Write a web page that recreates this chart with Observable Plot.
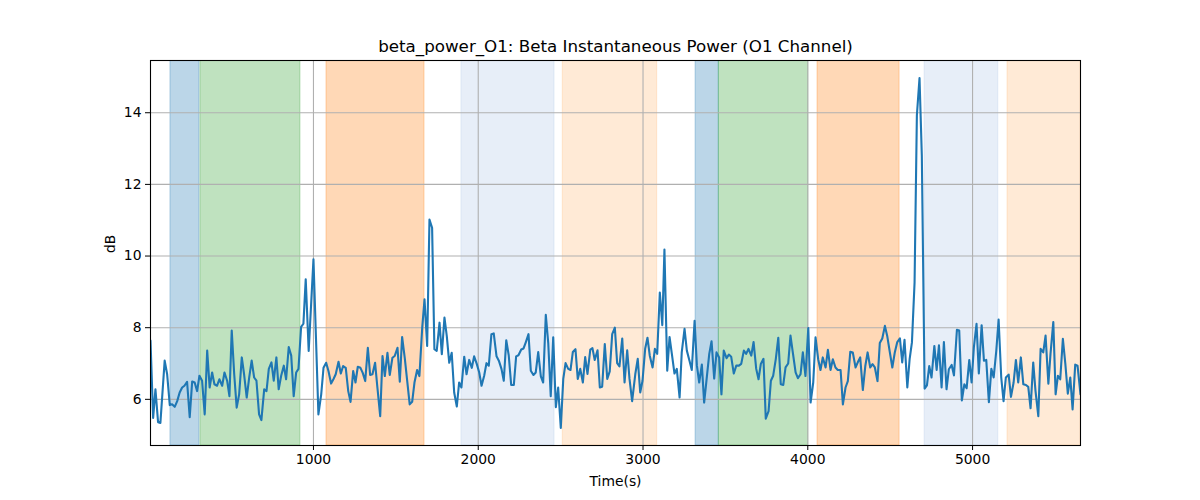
<!DOCTYPE html>
<html>
<head>
<meta charset="utf-8">
<script src="https://cdn.jsdelivr.net/npm/d3@7"></script>
<script src="https://cdn.jsdelivr.net/npm/@observablehq/plot@0.6"></script>
<style>
  html, body { margin: 0; padding: 0; background: white; }
  #chart svg { display: block; }
</style>
</head>
<body>
<div id="chart"></div>
<script>
const titleText = "beta_power_O1: Beta Instantaneous Power (O1 Channel)";
const xLabel = "Time(s)";
const yLabel = "dB";
const xTicks = [1000, 2000, 3000, 4000, 5000];
const yTicks = [6, 8, 10, 12, 14];

const times = [
  11, 27, 41, 57, 71, 97, 112, 128, 142, 158, 173, 188, 203, 217, 233, 249, 264, 279, 294, 308,
  324, 340, 355, 370, 385, 399, 415, 429, 446, 460, 476, 490, 504, 519, 534, 549, 565, 579, 595, 610,
  625, 640, 654, 670, 684, 701, 715, 729, 745, 759, 775, 789, 804, 820, 834, 850, 865, 880, 895, 909,
  925, 939, 953, 971, 1000, 1030, 1047, 1061, 1077, 1091, 1107, 1121, 1135, 1152, 1166, 1180, 1196, 1211, 1225, 1241,
  1255, 1269, 1285, 1299, 1314, 1330, 1344, 1358, 1374, 1388, 1405, 1419, 1433, 1449, 1463, 1479, 1493, 1510, 1524, 1538,
  1554, 1569, 1584, 1599, 1613, 1629, 1643, 1660, 1674, 1690, 1704, 1720, 1734, 1748, 1765, 1779, 1795, 1809, 1824, 1839,
  1854, 1870, 1884, 1898, 1915, 1929, 1945, 1961, 1975, 1991, 2006, 2020, 2036, 2050, 2064, 2080, 2094, 2111, 2125, 2141,
  2155, 2170, 2185, 2200, 2216, 2230, 2244, 2261, 2275, 2289, 2305, 2319, 2335, 2349, 2364, 2380, 2394, 2410, 2425, 2440,
  2455, 2471, 2485, 2501, 2516, 2530, 2546, 2560, 2574, 2590, 2604, 2619, 2635, 2649, 2663, 2680, 2693, 2707, 2724, 2738,
  2752, 2768, 2783, 2798, 2813, 2829, 2843, 2857, 2874, 2888, 2904, 2918, 2934, 2953, 2968, 2983, 2997, 3013, 3027, 3041,
  3058, 3072, 3086, 3102, 3117, 3130, 3147, 3161, 3175, 3191, 3205, 3222, 3235, 3252, 3266, 3282, 3296, 3313, 3327, 3341,
  3357, 3371, 3385, 3402, 3416, 3432, 3446, 3462, 3476, 3490, 3507, 3521, 3535, 3551, 3566, 3582, 3596, 3612, 3626, 3640,
  3657, 3671, 3687, 3701, 3715, 3731, 3745, 3762, 3776, 3790, 3806, 3821, 3836, 3851, 3865, 3881, 3895, 3909, 3926, 3940,
  3956, 3970, 3986, 4003, 4017, 4033, 4047, 4063, 4077, 4091, 4108, 4122, 4138, 4152, 4168, 4182, 4199, 4213, 4229, 4243,
  4258, 4273, 4290, 4304, 4318, 4334, 4349, 4363, 4379, 4393, 4407, 4423, 4437, 4452, 4468, 4482, 4498, 4513, 4528, 4543,
  4559, 4573, 4587, 4604, 4618, 4632, 4648, 4662, 4678, 4692, 4709, 4723, 4737, 4751, 4768, 4782, 4796, 4812, 4826, 4842,
  4856, 4873, 4887, 4905, 4919, 4935, 4950, 4964, 4980, 4994, 5008, 5024, 5038, 5055, 5069, 5083, 5099, 5114, 5128, 5144,
  5158, 5174, 5188, 5202, 5219, 5233, 5249, 5263, 5277, 5293, 5308, 5324, 5338, 5352, 5368, 5382, 5399, 5413, 5429, 5443,
  5460, 5473, 5490, 5504, 5518, 5532, 5548, 5563, 5578, 5593, 5607, 5623, 5637, 5655
];

const values = [
  7.64, 5.48, 6.28, 5.36, 5.34, 7.08, 6.70, 5.84, 5.86, 5.79, 5.95, 6.19, 6.33, 6.38, 6.49, 5.50, 6.50, 6.47, 6.23, 6.66,
  6.52, 5.58, 7.36, 6.33, 6.75, 6.42, 6.38, 6.56, 6.38, 6.75, 6.52, 6.09, 7.92, 6.70, 5.77, 6.14, 7.17, 6.70, 6.05, 6.61,
  7.08, 6.61, 6.52, 5.58, 5.42, 6.28, 6.23, 6.85, 7.03, 6.52, 7.17, 6.28, 6.66, 6.94, 6.56, 7.46, 7.22, 6.09, 6.75, 6.85,
  8.02, 8.11, 9.35, 7.35, 9.91, 5.58, 6.14, 6.88, 7.02, 6.79, 6.44, 6.56, 6.70, 7.05, 6.72, 6.93, 6.88, 6.23, 5.93, 6.79,
  6.47, 6.91, 6.88, 6.74, 6.51, 7.44, 6.68, 6.70, 7.02, 6.33, 5.53, 7.21, 6.65, 7.30, 6.68, 7.16, 7.21, 7.44, 6.49, 7.74,
  7.16, 6.51, 5.86, 5.93, 6.47, 6.82, 6.65, 8.00, 8.79, 7.49, 11.02, 10.79, 7.40, 7.35, 8.14, 7.26, 8.28, 7.77, 7.02, 7.30,
  6.19, 5.80, 6.47, 6.33, 7.19, 6.70, 7.10, 6.88, 7.20, 6.99, 6.75, 6.38, 6.66, 7.01, 6.94, 7.82, 7.84, 7.20, 7.08, 6.85,
  6.52, 7.65, 7.23, 6.40, 6.40, 7.20, 7.23, 7.39, 7.42, 7.60, 7.82, 6.80, 6.68, 6.75, 7.32, 6.64, 6.47, 8.36, 7.56, 6.09,
  7.73, 5.78, 6.33, 5.20, 6.57, 7.01, 6.85, 6.82, 7.32, 7.40, 6.57, 6.85, 6.47, 7.18, 6.71, 7.39, 7.43, 7.10, 7.37, 6.33,
  6.35, 7.54, 6.57, 6.78, 7.82, 8.00, 7.01, 6.92, 7.70, 6.47, 7.37, 6.57, 5.95, 6.70, 7.13, 6.19, 6.52, 7.41, 7.72, 7.22,
  6.89, 7.41, 7.27, 8.98, 8.07, 10.18, 6.80, 7.74, 7.27, 6.72, 6.85, 6.05, 7.31, 7.97, 7.36, 7.08, 6.82, 8.19, 6.94, 6.47,
  6.97, 5.91, 6.52, 7.27, 7.62, 6.58, 7.31, 7.17, 6.14, 7.36, 7.15, 7.25, 7.19, 6.72, 6.94, 6.94, 6.99, 7.36, 7.27, 7.41,
  7.22, 7.60, 6.85, 6.56, 6.99, 7.13, 5.46, 5.67, 6.52, 6.66, 7.13, 7.72, 6.42, 6.40, 6.89, 7.00, 7.78, 7.31, 6.75, 6.59,
  6.70, 7.31, 6.65, 7.99, 5.91, 6.47, 7.73, 7.12, 6.82, 7.17, 6.89, 7.38, 6.82, 7.12, 6.89, 6.82, 6.82, 5.86, 6.33, 6.51,
  7.33, 7.31, 6.89, 7.04, 7.17, 6.26, 6.93, 7.31, 6.89, 6.98, 6.89, 6.51, 7.57, 7.70, 8.05, 7.77, 7.31, 6.89, 7.31, 7.60,
  7.70, 7.03, 7.66, 6.33, 7.12, 7.59, 9.26, 13.93, 14.97, 12.81, 6.30, 6.39, 6.93, 6.61, 7.49, 6.82, 7.51, 6.33, 7.60, 6.28,
  6.84, 6.96, 6.67, 7.94, 7.92, 5.97, 6.42, 6.31, 7.10, 6.47, 7.46, 8.11, 6.72, 8.07, 7.08, 7.10, 5.92, 6.85, 6.61, 7.36,
  8.23, 6.61, 5.95, 6.61, 6.69, 6.07, 6.47, 7.10, 6.47, 7.17, 6.42, 6.40, 6.35, 5.75, 7.03, 6.23, 5.53, 7.41, 7.31, 7.78,
  6.44, 7.27, 8.16, 6.14, 6.66, 6.56, 7.69, 6.99, 6.16, 6.61, 5.72, 6.97, 6.94, 6.14
];

const spanStart = [132, 314, 1079, 1898, 2513, 3319, 3460, 4059, 4709, 5212];
const spanEnd   = [308, 921, 1674, 2463, 3086, 3460, 4003, 4557, 5156, 5656];
const spanPhase = ["P1", "P2", "P3", "P4", "P5", "P1", "P2", "P3", "P4", "P5"];

// styling (not data)
const phaseColor = {
  P1: "rgba(31,119,180,0.3)",
  P2: "rgba(44,160,44,0.3)",
  P3: "rgba(255,127,14,0.3)",
  P4: "rgba(174,199,232,0.3)",
  P5: "rgba(255,187,120,0.3)"
};

const series = times.map((t, i) => ({t, v: values[i]}));
const spans = spanStart.map((s, i) => ({x1: s, x2: spanEnd[i], phase: spanPhase[i]}));

const [xmin, xmax] = d3.extent(times);
const [vmin, vmax] = d3.extent(values);
const pad = (vmax - vmin) * 0.05;

const font = "DejaVu Sans, sans-serif";
const plain = d => String(d);

const chart = Plot.plot({
  width: 1200,
  height: 500,
  marginLeft: 150,
  marginRight: 120,
  marginTop: 60,
  marginBottom: 55,
  style: {fontFamily: font, fontSize: "13.9px", background: "white", color: "black"},
  x: {domain: [xmin, xmax]},
  y: {domain: [vmin - pad, vmax + pad]},
  marks: [
    Plot.rect(spans, {
      x1: "x1", x2: "x2",
      fill: {value: d => phaseColor[d.phase], scale: null},
      stroke: {value: d => phaseColor[d.phase], scale: null},
      strokeWidth: 1,
      clip: true
    }),
    Plot.gridX(xTicks, {stroke: "#b0b0b0", strokeOpacity: 1, strokeWidth: 1.1}),
    Plot.gridY(yTicks, {stroke: "#b0b0b0", strokeOpacity: 1, strokeWidth: 1.1}),
    Plot.line(series, {x: "t", y: "v", stroke: "#1f77b4", strokeWidth: 2.1, clip: true}),
    Plot.frame({stroke: "black", strokeWidth: 1.1}),
    Plot.axisX(xTicks, {tickSize: 5, tickPadding: 4, label: null, fontSize: 13.9, tickFormat: plain}),
    Plot.axisY(yTicks, {tickSize: 5, tickPadding: 4, label: null, fontSize: 13.9, tickFormat: plain}),
    Plot.text([titleText], {frameAnchor: "top", dy: -14, lineAnchor: "middle", fontSize: 16.7, fill: "black"}),
    Plot.text([xLabel], {frameAnchor: "bottom", dy: 36, lineAnchor: "middle", fontSize: 13.9, fill: "black"}),
    Plot.text([yLabel], {frameAnchor: "left", dx: -40, rotate: -90, lineAnchor: "middle", fontSize: 13.9, fill: "black"})
  ]
});

document.getElementById("chart").appendChild(chart);
</script>
</body>
</html>
